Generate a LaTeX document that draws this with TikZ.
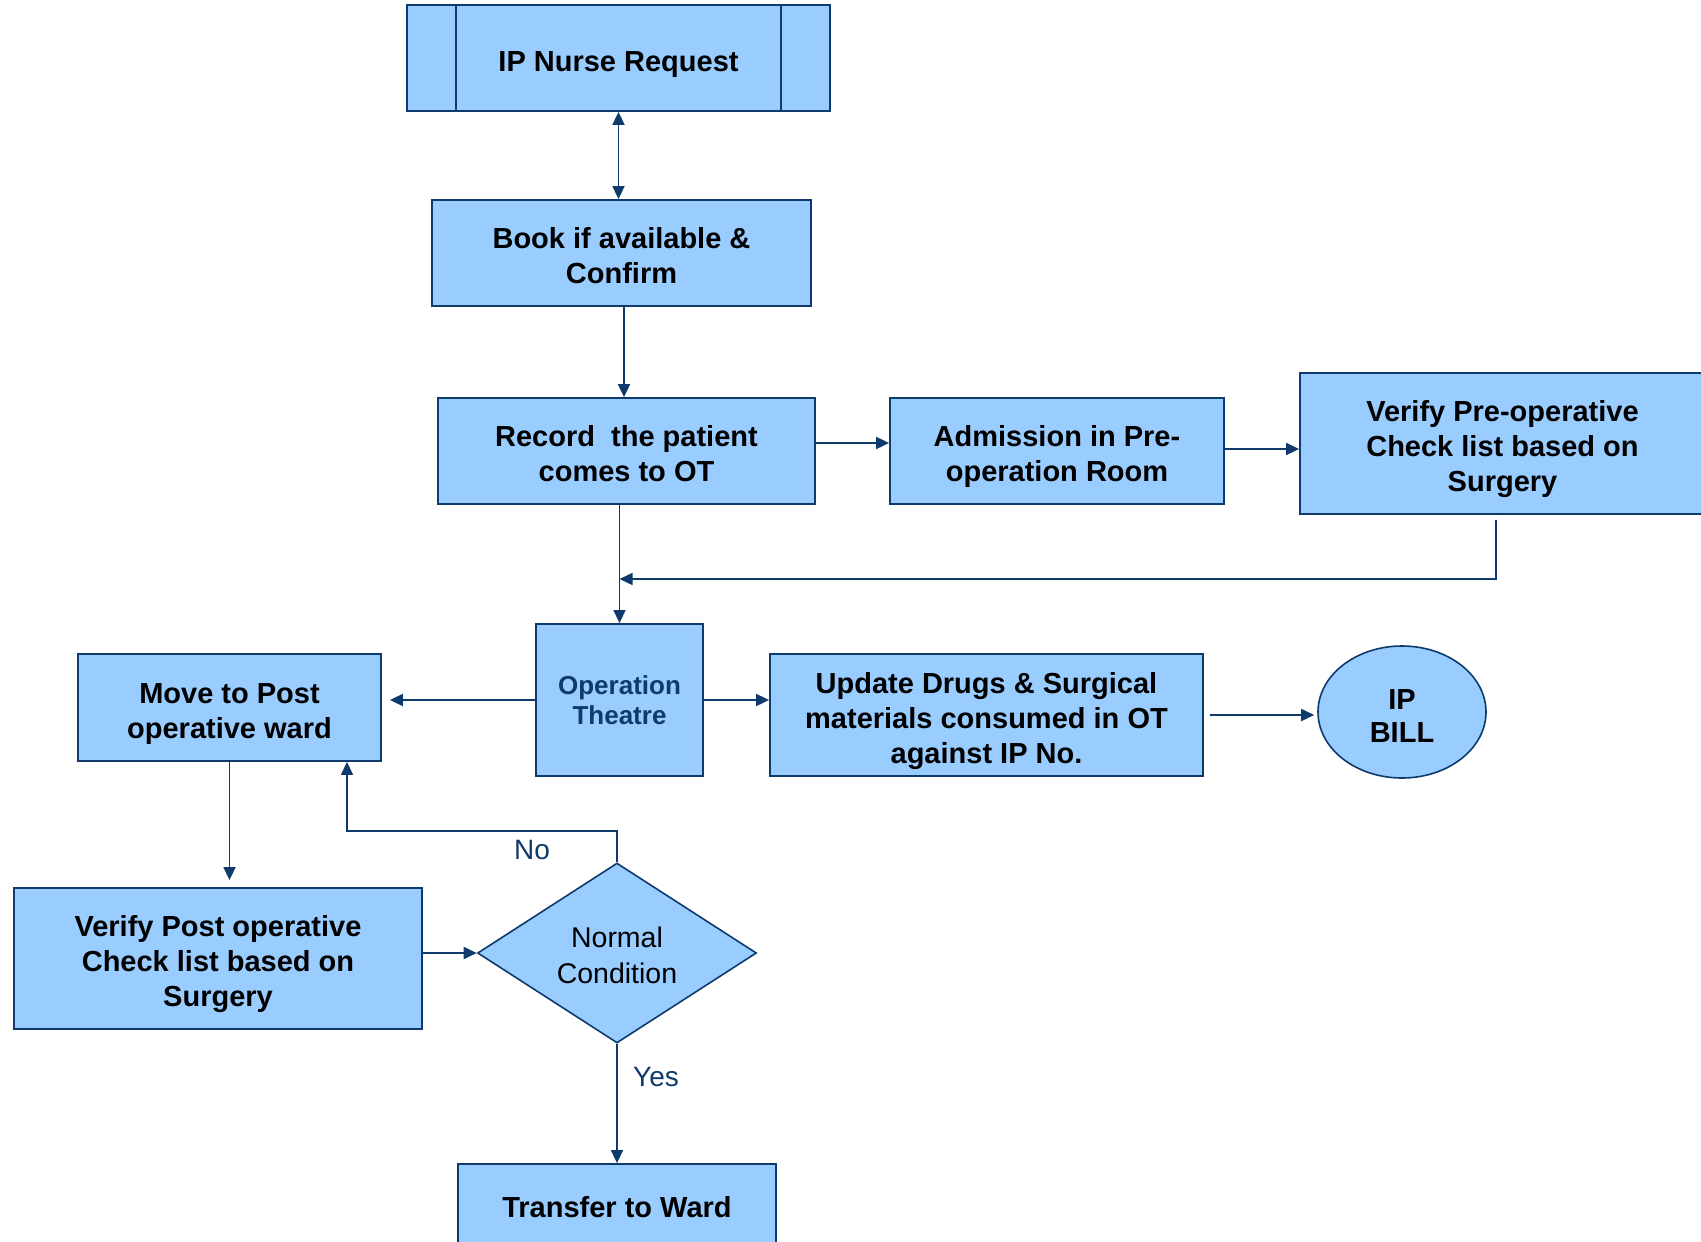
\documentclass[tikz,border=0pt]{standalone}
\usepackage{fontspec}
\setmainfont{Liberation Sans}
\usetikzlibrary{shapes.geometric,arrows.meta,calc}
\definecolor{boxfill}{HTML}{99CCFF}
\definecolor{navy}{HTML}{0E3A6C}
\begin{document}
\begin{tikzpicture}[x=1pt,y=-1pt,
  box/.style={draw=navy,line width=1.8pt,fill=boxfill,rectangle,inner sep=0pt,align=center,
    font=\bfseries\fontsize{29}{35}\selectfont,text height=32pt,text depth=6pt},
  boxtwo/.style={box,text height=67pt},
  boxthree/.style={box,text height=102pt},
  otbox/.style={draw=navy,line width=1.8pt,fill=boxfill,rectangle,inner sep=0pt,align=center,
    text=navy,font=\bfseries\fontsize{26}{30.5}\selectfont},
  decision/.style={draw=navy,line width=1.6pt,fill=boxfill,diamond,aspect=1.55,inner sep=0pt,align=center,
    text=black,font=\fontsize{28.5}{36}\selectfont,text height=61pt},
  terminal/.style={draw=navy,line width=1.6pt,fill=boxfill,ellipse,inner sep=0pt,align=center,
    font=\bfseries\fontsize{29}{33}\selectfont,text height=60.4pt},
  flow/.style={draw=navy,line width=1.8pt,-{Triangle[length=13pt,width=12pt]}},
  lbl/.style={text=navy,font=\fontsize{28}{32}\selectfont,inner sep=0pt}]
\useasboundingbox (0,0) rectangle (1701,1242);

% boxes
\node[box,minimum width=423,minimum height=106] (req) at (618.5,58) {IP Nurse Request};
\draw[navy,line width=1.8pt] ($(req.north west)+(50,0)$) -- ($(req.south west)+(50,0)$)
  ($(req.north east)+(-50,0)$) -- ($(req.south east)+(-50,0)$);
\node[boxtwo,minimum width=379,minimum height=106] (book) at (621.5,253) {Book if available \&\\Confirm};
\node[boxtwo,minimum width=377,minimum height=106] (rec) at (626.5,451) {Record\ \ the patient\\comes to OT};
\node[boxtwo,minimum width=334,minimum height=106] (adm) at (1057,451) {Admission in Pre-\\operation Room};
\node[boxthree,minimum width=405,minimum height=141] (vpre) at (1502.5,443.5) {Verify Pre-operative\\Check list based on\\Surgery};
\node[otbox,minimum width=167,minimum height=152] (ot) at (619.5,700) {Operation\\Theatre};
\node[boxtwo,minimum width=303,minimum height=107] (move) at (229.5,707.5) {Move to Post\\operative ward};
\node[boxthree,minimum width=433,minimum height=122] (upd) at (986.5,715) {Update Drugs \& Surgical\\materials consumed in OT\\against IP No.};
\node[terminal,minimum width=168,minimum height=132] (bill) at (1402,712) {IP\\BILL};
\node[boxthree,minimum width=408,minimum height=141] (vpost) at (218,958.5) {Verify Post operative\\Check list based on\\Surgery};
\node[decision,minimum width=279,minimum height=180] (cond) at (617,953) {Normal\\Condition};
\node[box,minimum width=318,minimum height=84,text height=28pt] (ward) at (617,1206) {Transfer to Ward};

% branch labels
\node[lbl] (nolbl) at (532,850) {No};
\node[lbl] (yeslbl) at (656,1077) {Yes};

% junction points
\coordinate (join) at (619.5,579);
\coordinate (nobend) at (347,831);

% connectors
\draw[flow,{Triangle[length=13pt,width=12pt]}-{Triangle[length=13pt,width=12pt]}]
  (req.south) -- (req.south |- book.north);
\draw[flow] ([xshift=2.5pt]book.south) -- ([xshift=2.5pt]book.south |- rec.north);
\draw[flow] ([yshift=8pt]rec.east) -- ([yshift=8pt]rec.east -| adm.west);
\draw[flow] ([yshift=2pt]adm.east) -- ([yshift=2pt]adm.east -| vpre.west);
\draw[flow,line width=1.4pt] ([xshift=-6.5pt,yshift=-5pt]vpre.south) |- (join);
\draw[flow,line width=1.4pt] (rec.south -| ot.north) -- (ot.north);
\draw[flow,shorten >=8pt] (ot.west) -- (ot.west -| move.east);
\draw[flow] (ot.east) -- (ot.east -| upd.west);
\draw[flow,shorten <=6pt,shorten >=3pt] (upd.east) -- (upd.east -| bill.west);
\draw[flow,shorten >=7pt] (move.south) -- (move.south |- vpost.north);
\draw[flow] (cond.west -| vpost.east) -- (cond.west);
\draw[flow,line width=1.4pt] (cond.north) |- (nobend) -- (nobend |- move.south);
\draw[flow,line width=1.4pt] (cond.south) -- (cond.south |- ward.north);
\end{tikzpicture}
\end{document}
